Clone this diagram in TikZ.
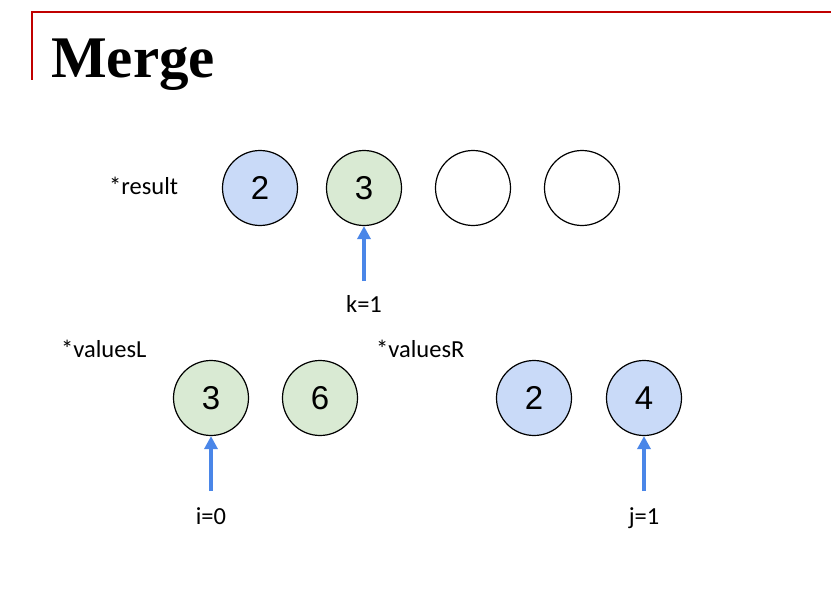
\documentclass[tikz,border=0pt]{standalone}
\usepackage{fontspec}
\setmainfont{Carlito}
\newfontfamily\digitfont{Liberation Sans}
\newfontfamily\titlefont{Liberation Serif}
\usetikzlibrary{arrows.meta}
\definecolor{cblue}{HTML}{C9DAF8}
\definecolor{cgreen}{HTML}{D9EAD3}
\definecolor{arrowblue}{HTML}{4A86E8}
\definecolor{redline}{HTML}{C00000}
\tikzset{
  cell/.style={circle, draw=black, line width=1.2pt, minimum size=75pt, inner sep=0pt, font=\digitfont\fontsize{33}{36}\selectfont},
  bluecell/.style={cell, fill=cblue},
  greencell/.style={cell, fill=cgreen},
  emptycell/.style={cell, fill=white},
  lbl/.style={font=\fontsize{24.5}{28}\selectfont, inner sep=0pt},
  ptr/.style={draw=arrowblue, line width=4pt, -{Triangle[length=13pt,width=13pt]}},
}
\begin{document}
\begin{tikzpicture}[x=1pt,y=-1pt]
\useasboundingbox (0,0) rectangle (831,594);
\fill[white] (0,0) rectangle (831,594);
\draw[redline, line width=2pt] (32,80) -- (32,12) -- (831,12);
\node[anchor=base west, inner sep=0pt, font=\titlefont\bfseries\fontsize{59}{64}\selectfont] (title) at (51,78) {Merge};

\node[lbl, anchor=base west] (res) at (109,194) {*result};
\node[bluecell] (r0) at (260,188) {2};
\node[greencell] (r1) at (364,188) {3};
\node[emptycell] (r2) at (473,188) {};
\node[emptycell] (r3) at (582,188) {};
\node[lbl, anchor=base] (k) at (364,312) {k=1};
\coordinate (kt) at (364,281);
\draw[ptr] (kt) -- (r1.south);

\node[lbl, anchor=base west] (vl) at (61,357) {*valuesL};
\node[greencell] (l0) at (211,398) {3};
\node[greencell] (l1) at (320,398) {6};
\node[lbl, anchor=base] (i) at (211,524) {i=0};
\coordinate (it) at (211,491);
\draw[ptr] (it) -- (l0.south);

\node[lbl, anchor=base west] (vr) at (376,357) {*valuesR};
\node[bluecell] (rr0) at (534,398) {2};
\node[bluecell] (rr1) at (644,398) {4};
\node[lbl, anchor=base] (j) at (644,524) {j=1};
\coordinate (jt) at (644,491);
\draw[ptr] (jt) -- (rr1.south);
\end{tikzpicture}
\end{document}
